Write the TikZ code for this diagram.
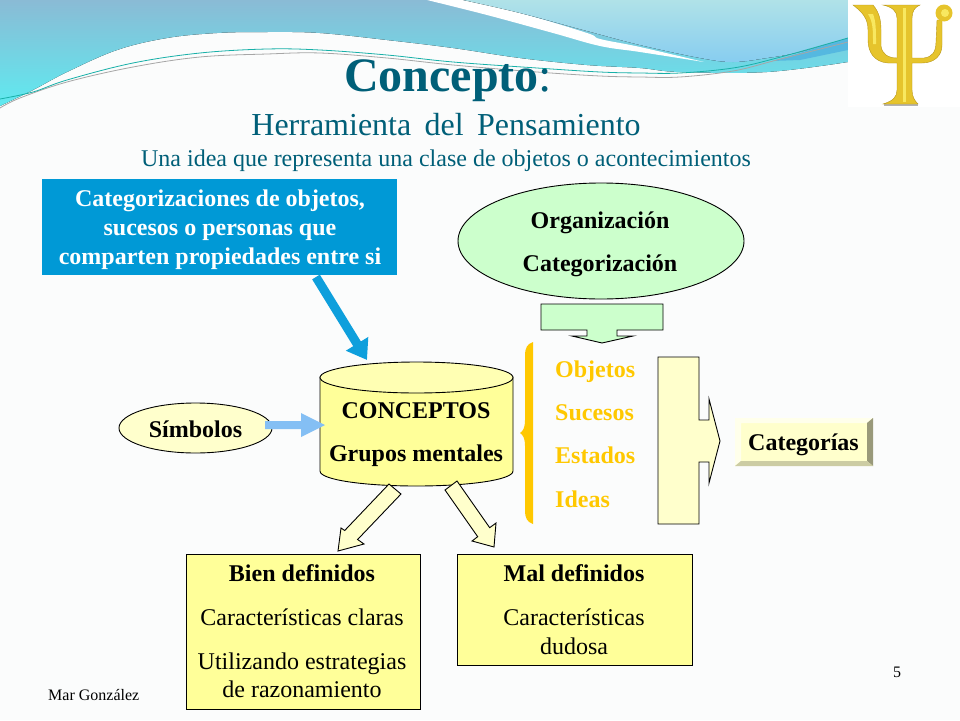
\documentclass[tikz,border=0pt]{standalone}
\usepackage{fontspec}
\setmainfont{Liberation Serif}
\usetikzlibrary{shapes.geometric,arrows.meta}
\definecolor{bgc}{HTML}{FBFCFC}
\definecolor{tealc}{HTML}{005F78}
\definecolor{boxblue}{HTML}{0099D6}
\definecolor{arrblue}{HTML}{0E9FDC}
\definecolor{ltblue}{HTML}{84BFF4}
\definecolor{mint}{HTML}{CCFFCC}
\definecolor{pale}{HTML}{FFFFCC}
\definecolor{yel}{HTML}{FFFF99}
\definecolor{yeltop}{HTML}{FFFFB3}
\definecolor{gold}{HTML}{FFC800}
\definecolor{psi}{HTML}{E6C42C}
\definecolor{psid}{HTML}{B8961A}
\definecolor{psil}{HTML}{F8E860}
\definecolor{wavea}{HTML}{8ABBD5}
\definecolor{waveb}{HTML}{5FEAF0}
\definecolor{wavec}{HTML}{B0E2E8}
\definecolor{waved}{HTML}{87CDF0}
\definecolor{wedge}{HTML}{55B8E0}
\definecolor{linea}{HTML}{18B0A8}
\definecolor{bevl}{HTML}{FFFFEB}
\definecolor{bevr}{HTML}{99997A}
\definecolor{bevb}{HTML}{CCCCA3}
\tikzset{
  x=1pt,y=-1pt,
  outl/.style={draw=black,line width=0.9pt,line join=miter},
  blockarrow/.style={outl,fill=pale},
  boxtext/.style={font=\fontsize{24}{28}\selectfont\bfseries,inner sep=0pt,align=center},
  plaintext/.style={font=\fontsize{24}{28}\selectfont,inner sep=0pt,align=center},
  yelbox/.style={outl,fill=yel},
  items/.style={font=\fontsize{24}{28}\selectfont\bfseries,text=gold,inner sep=0pt,anchor=base west}
}
\begin{document}
\begin{tikzpicture}
\useasboundingbox (0,0) rectangle (960,720);
\fill[bgc] (0,0) rectangle (960,720);
% waves
\fill[top color=wavea,bottom color=waveb]
  (0,0) -- (848,0) -- plot[smooth,tension=0.6] coordinates {(848,62) (767,72) (680,72) (640,68) (587,65) (520,58) (453,48) (387,40) (320,33) (267,32) (217,33) (167,38) (117,50) (67,72) (33,90) (0,106)} -- cycle;
\fill[white] plot[smooth,tension=0.6] coordinates {(427,0) (487,15) (553,33) (600,46) (640,52) (704,62)} -- plot[smooth,tension=0.6] coordinates {(704,62) (640,47) (600,39) (587,33) (520,13) (463,0)} -- cycle;
\fill[top color=wavec,bottom color=waved]
  (463,0) -- (848,0) -- plot[smooth,tension=0.6] coordinates {(848,38) (800,52) (767,58) (733,62) (700,58) (640,45) (587,31) (520,13) (463,0)} -- cycle;
\fill[wedge] (772,61) -- (800,53) -- (848,38) -- (848,50) -- (800,60) -- cycle;
\draw[gray!70,line width=0.8pt] plot[smooth,tension=0.6] coordinates {(0,108) (20,98) (67,82) (133,67) (200,57) (267,54) (320,53) (387,58) (453,65) (537,72) (600,76) (640,77) (680,77) (733,71) (777,60) (848,42)};
\draw[linea,line width=0.8pt] plot[smooth,tension=0.6] coordinates {(0,99) (33,92) (67,80) (133,63) (200,53) (267,49) (320,50) (387,55) (453,62) (537,68) (600,72) (640,73) (680,73) (733,68) (777,58) (848,38)};
% logo
\fill[white] (848,0) rectangle (960,107);
\fill[gray!60] (884,104) rectangle (918,106);
\fill[psi,draw=psid,line width=0.4pt]
  (853,5) -- (873,5) .. controls (879,12) and (881,20) .. (881,30) -- (881,46)
  .. controls (882,54) and (888,58) .. (897,58) -- (897,18) .. controls (897,11) and (892,7) .. (883,5)
  -- (920,5) .. controls (915,7) and (912,11) .. (912,18) -- (912,58) -- (924,58)
  .. controls (932,57) and (936,52) .. (936,42) -- (937,20) -- (942,20) -- (942,45)
  .. controls (942,56) and (934,63) .. (922,63) -- (912,63) -- (912,90)
  .. controls (912,97) and (915,101) .. (918,104) -- (883,104)
  .. controls (893,101) and (897,97) .. (897,90) -- (897,63) -- (888,63)
  .. controls (874,62) and (868,52) .. (868,40) -- (868,30) .. controls (868,18) and (862,12) .. (853,5) -- cycle;
\fill[psil] (903,8) rectangle (906,102);
\fill[psil] (873,14) .. controls (876,22) and (876,30) .. (876,44) -- (873,44) .. controls (873,30) and (873,22) .. (868,14) -- cycle;
\fill[psi] (944,13) circle (8.5);
\fill[psil] (945,13) circle (4);
% titles
\node[inner sep=0pt,text=tealc,font=\fontsize{48}{50}\selectfont,anchor=base west] (title) at (344,91) {\textbf{Concepto}:};
\node[inner sep=0pt,text=tealc,font=\fontsize{32}{36}\selectfont,anchor=base] (sub) at (446,135) {Herramienta\, del\, Pensamiento};
\node[inner sep=0pt,text=tealc,font=\fontsize{24}{26}\selectfont,anchor=base] (subsub) at (446,166) {Una idea que representa una clase de objetos o acontecimientos};
% blue box
\node[fill=boxblue,minimum width=355pt,minimum height=96pt,inner sep=0pt,anchor=north west] (catbox) at (42,179) {};
\node[boxtext,text=white,anchor=base] (c1) at (220,206) {Categorizaciones de objetos,};
\node[boxtext,text=white,anchor=base] (c2) at (220,235) {sucesos o personas que};
\node[boxtext,text=white,anchor=base] (c3) at (220,264) {comparten propiedades entre si};
% organisation
\node[ellipse,outl,fill=mint,minimum width=286pt,minimum height=116pt,inner sep=0pt] (org) at (601,241) {};
\node[boxtext,anchor=base] (o1) at (600,228) {Organización};
\node[boxtext,anchor=base] (o2) at (600,271) {Categorización};
\draw[outl,fill=mint] (541,304) -- (663,304) -- (663,330) -- (617,330) -- (617,336) -- (633,336) -- (602,343) -- (572,336) -- (587,336) -- (587,330) -- (541,330) -- cycle;
% cylinder
\draw[outl,fill=yel] (320,377) -- (320,471) .. controls (320,480) and (365,486) .. (416.5,486) .. controls (468,486) and (513,480) .. (513,471) -- (513,377) -- cycle;
\draw[outl,fill=yeltop] (416.5,377.5) ellipse[x radius=96.5,y radius=15.5];
\coordinate (cylt) at (367,360);
\coordinate (cyll) at (325,425);
\node[boxtext,anchor=base] (cy1) at (416,418) {CONCEPTOS};
\node[boxtext,anchor=base] (cy2) at (416,461) {Grupos mentales};
% arrow blue
\coordinate (catout) at (316,277);
\draw[arrblue,line width=9pt,-{Triangle[length=19pt,width=25pt]}] (catout) -- (cylt);
% simbolos
\node[ellipse,outl,fill=pale,minimum width=153pt,minimum height=50pt,inner sep=0pt] (sim) at (195.5,428) {};
\node[boxtext,anchor=base] (simt) at (195.5,437) {Símbolos};
\coordinate (simout) at (265,425);
\fill[ltblue] (265,421) -- (301,421) -- (301,413) -- (cyll) -- (301,437) -- (301,429) -- (265,429) -- cycle;
% down arrows
\draw[blockarrow] (389,484) -- (401,494) -- (357.6,539.5) -- (364,544) -- (338,551) -- (341,528) -- (344.7,530.5) -- cycle;
\draw[blockarrow] (445,490) -- (457,481) -- (489.7,527.7) -- (496,523) -- (494,547) -- (472,541) -- (477.7,536.7) -- cycle;
% brace
\fill[gold] (533,342) .. controls (527,344) and (525,348) .. (525,356) -- (525,420)
  .. controls (525,428) and (523,431) .. (520,433)
  .. controls (523,435) and (525,438) .. (525,446) -- (525,510)
  .. controls (525,518) and (527,522) .. (533,524) -- cycle;
\node[items] (i1) at (555,377) {Objetos};
\node[items] (i2) at (555,420) {Sucesos};
\node[items] (i3) at (555,463) {Estados};
\node[items] (i4) at (555,507) {Ideas};
% big arrow
\draw[blockarrow] (658,357) -- (699,357) -- (699,420) -- (709,420) -- (709,399) -- (720,441) -- (709,483) -- (709,462) -- (699,462) -- (699,524) -- (658,524) -- cycle;
% categorias bevel
\fill[pale] (735,418) rectangle (873,466);
\fill[bevl] (735,418) -- (873,418) -- (867,423) -- (741,423) -- (741,461) -- (735,466) -- cycle;
\fill[bevr] (873,418) -- (873,466) -- (867,461) -- (867,423) -- cycle;
\fill[bevb] (735,466) -- (873,466) -- (867,461) -- (741,461) -- cycle;
\node[boxtext,anchor=base] (cat) at (803.5,450) {Categorías};
% boxes
\node[yelbox,minimum width=234pt,minimum height=155pt,inner sep=0pt,anchor=north west] (bien) at (186,554) {};
\node[yelbox,minimum width=235pt,minimum height=111pt,inner sep=0pt,anchor=north west] (mal) at (457,554) {};
\node[boxtext,anchor=base] (b1) at (302,581) {Bien definidos};
\node[plaintext,anchor=base] (b2) at (302,625) {Características claras};
\node[plaintext,anchor=base] (b3) at (302,669) {Utilizando estrategias};
\node[plaintext,anchor=base] (b4) at (302,697) {de razonamiento};
\node[boxtext,anchor=base] (m1) at (574,581) {Mal definidos};
\node[plaintext,anchor=base] (m2) at (574,625) {Características};
\node[plaintext,anchor=base] (m3) at (574,654) {dudosa};
% footer
\node[inner sep=0pt,font=\fontsize{16}{18}\selectfont,anchor=base west] (ft) at (48,700) {Mar González};
\node[inner sep=0pt,font=\fontsize{16}{18}\selectfont,anchor=base] (pg) at (897,677) {5};
\end{tikzpicture}
\end{document}
